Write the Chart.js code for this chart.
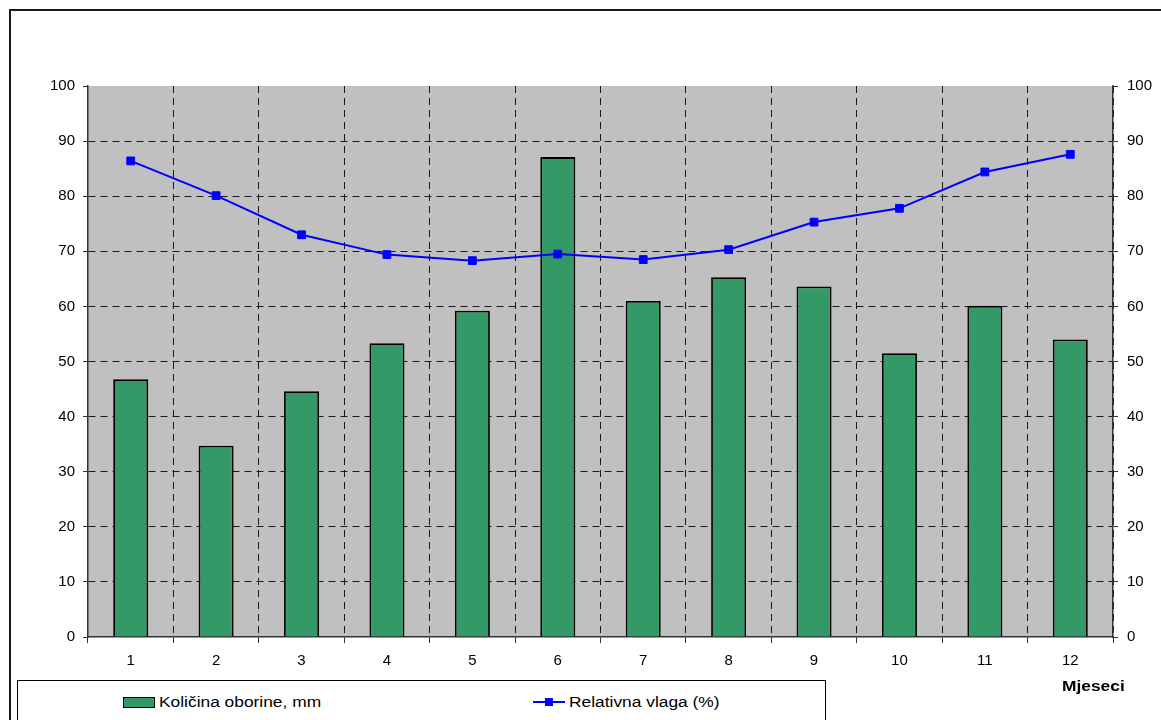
<!DOCTYPE html>
<html>
<head>
<meta charset="utf-8">
<script src="https://cdn.jsdelivr.net/npm/chart.js@4.4.0/dist/chart.umd.min.js"></script>
<style>
  html, body { margin: 0; padding: 0; background: #fff; overflow: hidden; }
  body { width: 1161px; height: 720px; position: relative; font-family: "Liberation Sans", Arial, sans-serif; }
  #chart { position: absolute; left: 0; top: 0; }
  .frame { position: absolute; left: 9px; top: 9px; width: 1200px; height: 800px;
           border-left: 2px solid #1a1a1a; border-top: 2px solid #1a1a1a; }
  .legend { position: absolute; left: 17px; top: 680px; width: 807px; height: 80px;
            border: 1px solid #000; background: #fff; }
  .legend .item { position: absolute; top: 12px; font-size: 15.5px; color: #000; white-space: nowrap; line-height: 18px; }
  .legend .txt { display: inline-block; transform: scaleX(1.12); transform-origin: left center; }
  .swatch { display: inline-block; width: 30px; height: 9px; background: #339966; border: 1px solid #000;
            vertical-align: -1px; margin-right: 4px; }
  .lineSym { display: inline-block; position: relative; width: 32px; height: 10px; margin-right: 4px; vertical-align: 0px; }
  .lineSym::before { content: ""; position: absolute; left: 0; right: 0; top: 4px; height: 2px; background: #0000ff; }
  .lineSym::after { content: ""; position: absolute; left: 12px; top: 1px; width: 8px; height: 8px; background: #0000ff; }
  .xtitle { position: absolute; left: 1062px; top: 677px; font-size: 15.5px; font-weight: bold; color: #000;
            transform: scaleX(1.12); transform-origin: left center; }
</style>
</head>
<body>
<div class="frame"></div>
<canvas id="chart" width="1161" height="720"></canvas>
<div class="legend">
  <div class="item" style="left:105px;"><span class="swatch"></span><span class="txt">Količina oborine, mm</span></div>
  <div class="item" style="left:515px;"><span class="lineSym"></span><span class="txt">Relativna vlaga (%)</span></div>
</div>
<div class="xtitle">Mjeseci</div>

<script>
// Months
const months = ['1', '2', '3', '4', '5', '6', '7', '8', '9', '10', '11', '12'];
// Monthly precipitation, mm
const precipitation = [46.8, 34.7, 44.6, 53.3, 59.2, 87.1, 61.0, 65.3, 63.6, 51.5, 60.1, 54.0];
// Relative humidity, %
const humidity = [86.4, 80.1, 73.0, 69.4, 68.3, 69.5, 68.5, 70.3, 75.3, 77.8, 84.4, 87.6];

const tickFont = { family: '"Liberation Sans", Arial, sans-serif', size: 15 };
const gridDash = [7, 5];

// Grey plot background
const plotBackground = {
  id: 'plotBackground',
  beforeDraw(chart) {
    const { ctx, chartArea: a } = chart;
    ctx.save();
    ctx.fillStyle = '#c0c0c0';
    ctx.fillRect(a.left, a.top, a.right - a.left, a.bottom - a.top);
    ctx.restore();
  }
};

new Chart(document.getElementById('chart'), {
  data: {
    labels: months,
    datasets: [
      {
        type: 'line',
        label: 'Relativna vlaga (%)',
        data: humidity,
        yAxisID: 'y1',
        borderColor: '#0000ff',
        backgroundColor: '#0000ff',
        borderWidth: 2,
        pointStyle: 'rect',
        pointRadius: 5.5,
        pointBorderWidth: 1,
        tension: 0,
        order: 0
      },
      {
        type: 'bar',
        label: 'Količina oborine, mm',
        data: precipitation,
        yAxisID: 'y',
        backgroundColor: '#339966',
        borderColor: '#000000',
        borderWidth: 1.8,
        barPercentage: 0.41,
        categoryPercentage: 1,
        order: 1
      }
    ]
  },
  options: {
    responsive: false,
    animation: false,
    layout: { padding: { top: 86, left: 0, right: 0, bottom: 0 } },
    plugins: { legend: { display: false }, tooltip: { enabled: false } },
    scales: {
      x: {
        offset: true,
        afterFit(scale) { scale.height = 83; },
        grid: {
          offset: true,
          color: '#1a1a1a',
          lineWidth: 1,
          tickLength: 6,
          tickColor: '#333',
          tickBorderDash: []
        },
        border: { display: true, color: '#333', width: 1.5, dash: gridDash },
        ticks: { color: '#000', font: tickFont, padding: 9, maxRotation: 0 }
      },
      y: {
        position: 'left',
        min: 0,
        max: 100,
        afterFit(scale) { scale.width = 88; },
        grid: {
          color: (c) => (c.tick && (c.tick.value === 0 || c.tick.value === 100)) ? 'rgba(0,0,0,0)' : '#1a1a1a',
          lineWidth: 1,
          tickLength: 5,
          tickColor: '#333',
          tickBorderDash: []
        },
        border: { display: true, color: '#333', width: 1.5, dash: gridDash },
        ticks: { stepSize: 10, color: '#000', font: tickFont, padding: 8 }
      },
      y1: {
        position: 'right',
        min: 0,
        max: 100,
        afterFit(scale) { scale.width = 48; },
        grid: {
          drawOnChartArea: false,
          tickLength: 5,
          tickColor: '#333',
          tickBorderDash: []
        },
        border: { display: true, color: '#333', width: 1.5 },
        ticks: { stepSize: 10, color: '#000', font: tickFont, padding: 9 }
      }
    }
  },
  plugins: [plotBackground]
});
</script>
</body>
</html>
